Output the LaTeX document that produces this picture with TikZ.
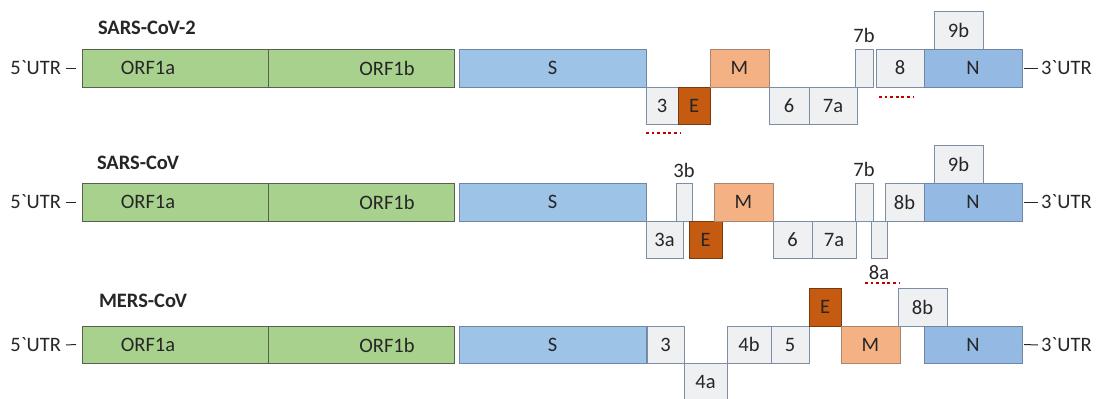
\documentclass[tikz,border=0pt]{standalone}
\usepackage{fontspec}
\setmainfont{Carlito}
\definecolor{orfgreen}{HTML}{A9D18E}
\definecolor{orfedge}{HTML}{56624F}
\definecolor{sblue}{HTML}{9DC3E6}
\definecolor{nblue}{HTML}{94BAE4}
\definecolor{blueedge}{HTML}{6F86A6}
\definecolor{mlight}{HTML}{F4B183}
\definecolor{medge}{HTML}{A88670}
\definecolor{edark}{HTML}{C55A11}
\definecolor{eedge}{HTML}{7A3A10}
\definecolor{accgrey}{HTML}{EFF0F2}
\definecolor{greyedge}{HTML}{7D8DA3}
\definecolor{txt}{HTML}{262626}
\definecolor{dotred}{HTML}{C00000}
\newcommand{\genefont}{\fontsize{20.5}{24}\selectfont}
% gene box: name, x1, y1, x2, y2, style, text
\newcommand{\gb}[7]{\node[#6, minimum width={(#4-#2)*1pt}, minimum height={(#5-#3)*1pt}] (#1) at (#2,#3) {#7};}
\tikzset{
  gene/.style={draw=greyedge, line width=0.8pt, fill=accgrey, inner sep=0pt, outer sep=0pt,
    anchor=north west, text=txt, font=\genefont},
  orf/.style={gene, fill=orfgreen, draw=orfedge},
  spike/.style={gene, fill=sblue, draw=blueedge},
  nucl/.style={gene, fill=nblue, draw=blueedge},
  memb/.style={gene, fill=mlight, draw=medge},
  envl/.style={gene, fill=edark, draw=eedge},
  lbl/.style={inner sep=0pt, outer sep=0pt, text=txt, font=\genefont},
  title/.style={inner sep=0pt, outer sep=0pt, anchor=west, text=txt, font=\genefont\bfseries},
  utrline/.style={draw=txt, line width=1pt},
  deletion/.style={draw=dotred, line width=2.8pt, dash pattern=on 2.8pt off 2.8pt},
}
\begin{document}
\begin{tikzpicture}[x=1pt,y=-1pt]
\useasboundingbox (0,0) rectangle (1096,399);

%% ---------------- SARS-CoV-2 ----------------
\node[title] (t1) at (98,28) {SARS-CoV-2};
\gb{a1a}{82}{49}{268}{87}{orf}{}
\gb{a1b}{268}{49}{454}{87}{orf}{}
\node[lbl] (a1alab) at (148,68) {ORF1a};
\node[lbl] (a1blab) at (387,68) {ORF1b};
\gb{aS}{459}{49}{646}{87}{spike}{S}
\gb{a3}{646}{87}{678}{124}{gene}{3}
\gb{aE}{678}{87}{710}{124}{envl}{E}
\gb{aM}{710}{49}{769}{87}{memb}{M}
\gb{a6}{769}{87}{809}{124}{gene}{6}
\gb{a7a}{809}{87}{857}{124}{gene}{7a}
\gb{a7b}{855}{49}{873}{87}{gene}{}
\node[lbl] (a7blab) at (864,35) {7b};
\gb{a8}{876}{49}{924}{87}{gene}{8}
\gb{a9b}{934}{11}{983}{49}{gene}{9b}
\gb{aN}{924}{49}{1022}{87}{nucl}{N}
\node[lbl, anchor=east] (a5u) at (61,68) {5\textasciigrave UTR};
\node[lbl, anchor=west] (a3u) at (1041,68) {3\textasciigrave UTR};
\draw[utrline] ([xshift=5pt]a5u.east) -- ([xshift=-6pt]a1a.west);
\draw[utrline] ([xshift=2pt]aN.east) -- ([xshift=-3pt]a3u.west);
\coordinate (d3a) at (646,133); \coordinate (d3b) at (680,133);
\draw[deletion] (d3a) -- (d3b);
\coordinate (d8a) at (879,97); \coordinate (d8b) at (914,97);
\draw[deletion] (d8a) -- (d8b);

%% ---------------- SARS-CoV ----------------
\node[title] (t2) at (97,163) {SARS-CoV};
\gb{b1a}{82}{183}{268}{221}{orf}{}
\gb{b1b}{268}{183}{454}{221}{orf}{}
\node[lbl] (b1alab) at (148,202) {ORF1a};
\node[lbl] (b1blab) at (387,202) {ORF1b};
\gb{bS}{459}{183}{646}{221}{spike}{S}
\gb{b3a}{646}{221}{683}{258}{gene}{3a}
\gb{b3b}{676}{183}{692}{221}{gene}{}
\node[lbl] (b3blab) at (684,170) {3b};
\gb{bE}{689}{221}{722}{258}{envl}{E}
\gb{bM}{714}{183}{773}{221}{memb}{M}
\gb{b6}{773}{221}{812}{258}{gene}{6}
\gb{b7a}{812}{221}{856}{258}{gene}{7a}
\gb{b7b}{855}{183}{873}{221}{gene}{}
\node[lbl] (b7blab) at (864,169) {7b};
\gb{b8a}{871}{221}{887}{258}{gene}{}
\node[lbl] (b8alab) at (879,273) {8a};
\gb{b8b}{885}{183}{924}{221}{gene}{8b}
\gb{b9b}{934}{145}{983}{183}{gene}{9b}
\gb{bN}{924}{183}{1022}{221}{nucl}{N}
\node[lbl, anchor=east] (b5u) at (61,202) {5\textasciigrave UTR};
\node[lbl, anchor=west] (b3u) at (1041,202) {3\textasciigrave UTR};
\draw[utrline] ([xshift=5pt]b5u.east) -- ([xshift=-6pt]b1a.west);
\draw[utrline] ([xshift=2pt]bN.east) -- ([xshift=-3pt]b3u.west);
\coordinate (d8aa) at (865,283); \coordinate (d8ab) at (899,283);
\draw[deletion] (d8aa) -- (d8ab);

%% ---------------- MERS-CoV ----------------
\node[title] (t3) at (99,301) {MERS-CoV};
\gb{c1a}{82}{326}{268}{363}{orf}{}
\gb{c1b}{268}{326}{454}{363}{orf}{}
\node[lbl] (c1alab) at (148,345) {ORF1a};
\node[lbl] (c1blab) at (387,345) {ORF1b};
\gb{cS}{459}{326}{646}{363}{spike}{S}
\gb{c3}{647}{326}{684}{363}{gene}{3}
\gb{c4a}{684}{363}{727}{400}{gene}{4a}
\gb{c4b}{727}{326}{771}{363}{gene}{4b}
\gb{c5}{771}{326}{809}{363}{gene}{5}
\gb{cE}{809}{288}{841}{326}{envl}{E}
\gb{cM}{841}{326}{900}{363}{memb}{M}
\gb{c8b}{898}{288}{947}{326}{gene}{8b}
\gb{cN}{924}{326}{1022}{363}{nucl}{N}
\node[lbl, anchor=east] (c5u) at (61,345) {5\textasciigrave UTR};
\node[lbl, anchor=west] (c3u) at (1041,345) {3\textasciigrave UTR};
\draw[utrline] ([xshift=5pt]c5u.east) -- ([xshift=-6pt]c1a.west);
\draw[utrline] ([xshift=2pt]cN.east) -- ([xshift=-3pt]c3u.west);
\end{tikzpicture}
\end{document}
